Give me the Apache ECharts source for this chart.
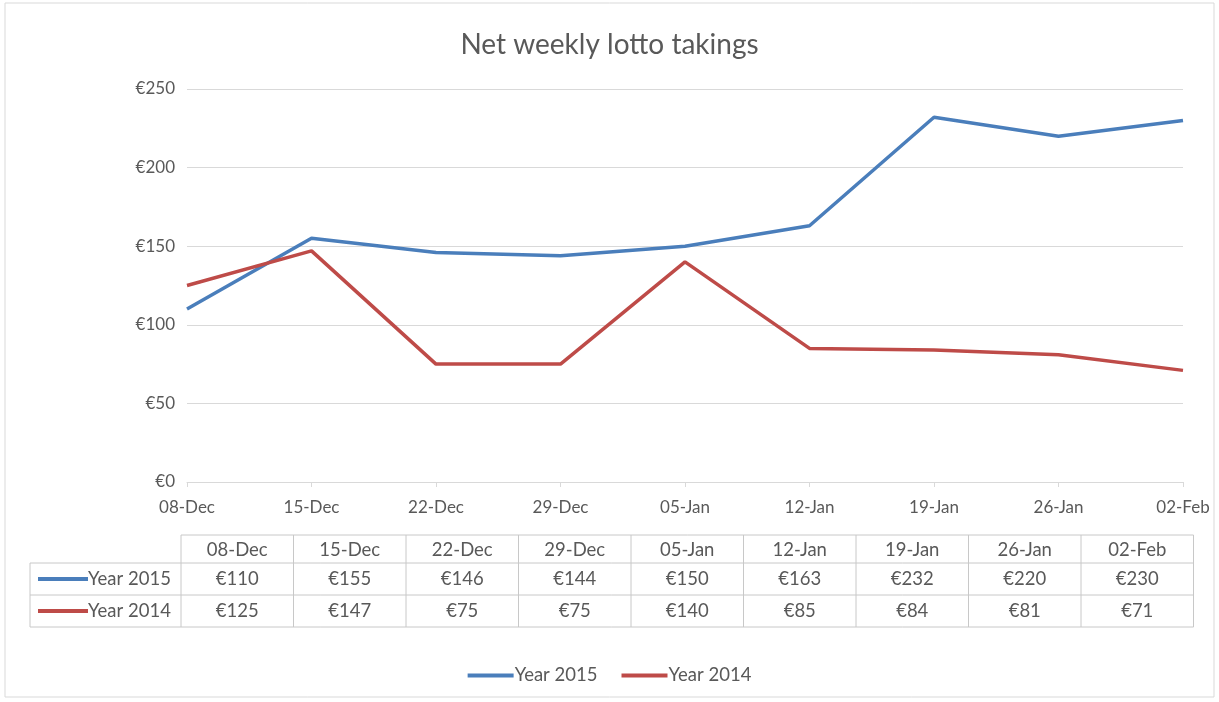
<!DOCTYPE html>
<html>
<head>
<meta charset="utf-8">
<title>Net weekly lotto takings</title>
<script src="https://cdn.jsdelivr.net/npm/echarts@6/dist/echarts.min.js"></script>
<style>
  html, body { margin: 0; padding: 0; background: #fff; }
  #myChart { width: 1219px; height: 702px; }
</style>
</head>
<body>
<div id="myChart"></div>
<script>
// data
var weeks = ['08-Dec', '15-Dec', '22-Dec', '29-Dec', '05-Jan', '12-Jan', '19-Jan', '26-Jan', '02-Feb'];
var year2015 = [110, 155, 146, 144, 150, 163, 232, 220, 230];
var year2014 = [125, 147, 75, 75, 140, 85, 84, 81, 71];
var seriesNames = ['Year 2015', 'Year 2014'];
var yTicks = { min: 0, max: 250, interval: 50 };

var blue = '#4a7ebb';
var red = '#be4b48';
var font = 'Lato, "Open Sans", sans-serif';
var txt = '#595959';
var gridCol = '#d9d9d9';

// data table under the chart
function buildTable() {
    var els = [];
    var x0 = 181, colW = 112.5, top = 535;
    var rowH = [28, 32, 32];
    var labelLeft = 30;
    var rows = [year2015, year2014];
    var colors = [blue, red];
    var lineStyle = { stroke: '#c8c8c8', lineWidth: 1 };
    var xEnd = x0 + colW * weeks.length;
    var y1 = top + rowH[0], y2 = y1 + rowH[1], y3 = y2 + rowH[2];
    var cellFont = '18.5px ' + font;

    // horizontal lines
    els.push({ type: 'line', shape: { x1: x0, y1: top, x2: xEnd, y2: top }, style: lineStyle });
    [y1, y2, y3].forEach(function (y) {
        els.push({ type: 'line', shape: { x1: labelLeft, y1: y, x2: xEnd, y2: y }, style: lineStyle });
    });
    // vertical lines
    els.push({ type: 'line', shape: { x1: labelLeft, y1: y1, x2: labelLeft, y2: y3 }, style: lineStyle });
    for (var c = 0; c <= weeks.length; c++) {
        var x = x0 + c * colW;
        els.push({ type: 'line', shape: { x1: x, y1: top, x2: x, y2: y3 }, style: lineStyle });
    }
    // header
    weeks.forEach(function (w, i) {
        els.push({ type: 'text', x: x0 + colW * (i + 0.5), y: top + rowH[0] / 2 + 1,
            style: { text: w, fill: txt, font: cellFont, align: 'center', verticalAlign: 'middle' } });
    });
    // rows
    var ys = [y1 + rowH[1] / 2, y2 + rowH[2] / 2];
    rows.forEach(function (vals, r) {
        els.push({ type: 'line', shape: { x1: 38, y1: ys[r], x2: 88, y2: ys[r] },
            style: { stroke: colors[r], lineWidth: 4 } });
        els.push({ type: 'text', x: 88, y: ys[r],
            style: { text: seriesNames[r], fill: txt, font: cellFont, align: 'left', verticalAlign: 'middle' } });
        vals.forEach(function (v, i) {
            els.push({ type: 'text', x: x0 + colW * (i + 0.5), y: ys[r],
                style: { text: '€' + v, fill: txt, font: cellFont, align: 'center', verticalAlign: 'middle' } });
        });
    });
    // chart frame
    els.push({ type: 'rect', shape: { x: 5, y: 3, width: 1209, height: 694 },
        style: { fill: 'none', stroke: gridCol, lineWidth: 1 } });
    return els;
}

var myChart = echarts.init(document.getElementById('myChart'));
myChart.setOption({
    backgroundColor: '#fff',
    title: {
        text: 'Net weekly lotto takings',
        left: 'center',
        top: 26,
        textStyle: { color: txt, fontSize: 28, fontWeight: 'normal', fontFamily: font }
    },
    grid: { left: 187, right: 36, top: 89, bottom: 220, containLabel: false },
    xAxis: {
        type: 'category',
        data: weeks,
        boundaryGap: false,
        axisLine: { lineStyle: { color: gridCol } },
        axisTick: { show: true, length: 5, lineStyle: { color: gridCol } },
        axisLabel: { color: txt, fontSize: 17, fontFamily: font, margin: 17 }
    },
    yAxis: {
        type: 'value',
        min: yTicks.min,
        max: yTicks.max,
        interval: yTicks.interval,
        axisLine: { show: false },
        axisTick: { show: false },
        axisLabel: { color: txt, fontSize: 17, fontFamily: font, margin: 12, formatter: '€{value}' },
        splitLine: { lineStyle: { color: gridCol } }
    },
    legend: {
        data: seriesNames,
        left: 'center',
        top: 661,
        itemWidth: 46,
        itemHeight: 4,
        itemGap: 24,
        icon: 'rect',
        textStyle: { color: txt, fontSize: 18.5, fontFamily: font, padding: [0, 0, 0, -4] }
    },
    series: [
        {
            name: seriesNames[0],
            type: 'line',
            data: year2015,
            showSymbol: false,
            itemStyle: { color: blue },
            lineStyle: { color: blue, width: 3.5 }
        },
        {
            name: seriesNames[1],
            type: 'line',
            data: year2014,
            showSymbol: false,
            itemStyle: { color: red },
            lineStyle: { color: red, width: 3.5 }
        }
    ],
    graphic: buildTable()
});
</script>
</body>
</html>
